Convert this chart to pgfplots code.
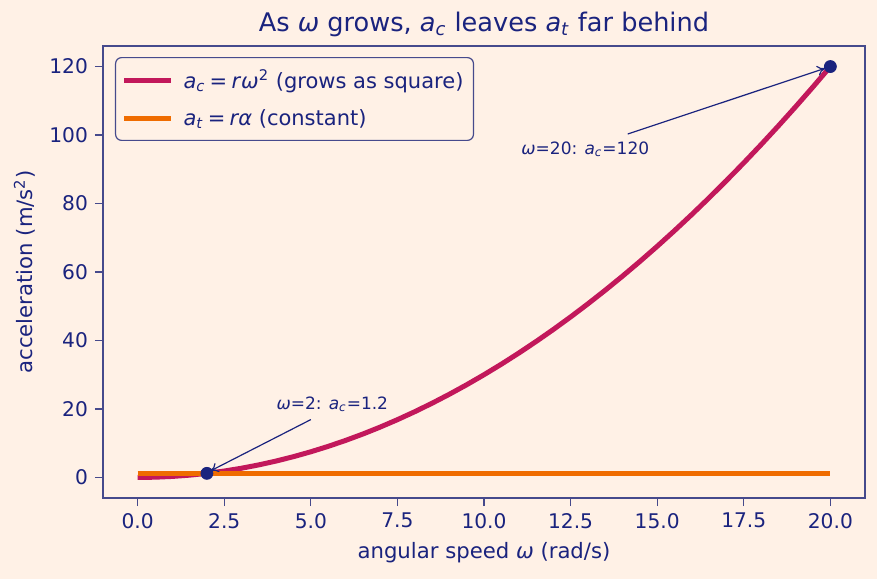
\documentclass[border=0pt]{standalone}
\usepackage{pgfplots}
\pgfplotsset{compat=1.18}
\usetikzlibrary{arrows.meta}
\usepackage{fontspec}
\setmainfont{DejaVu Sans}
\definecolor{bg}{HTML}{FFF1E6}
\definecolor{ink}{HTML}{1A237E}
\definecolor{spine}{HTML}{464A8C}
\definecolor{crim}{HTML}{C2185B}
\definecolor{orng}{HTML}{EF6C00}
% italic symbols set in the text font
\newcommand{\iv}[1]{\textit{#1}}
\newcommand{\ac}{\iv{a}\textsubscript{\iv{c}}}
\newcommand{\at}{\iv{a}\textsubscript{\iv{t}}}
\newcommand{\om}{\iv{ω}}
\newcommand{\eq}{\hspace{0.2em}=\hspace{0.2em}}
\begin{document}
\begin{tikzpicture}
\fill[bg] (-51.5pt,-40.5pt) rectangle (387pt,249pt);
\useasboundingbox (-51.5pt,-40.5pt) rectangle (387pt,249pt);
\begin{axis}[
  scale only axis, width=381pt, height=226pt,
  xmin=-1, xmax=21, ymin=-6, ymax=126,
  axis background/.style={fill=bg},
  axis line style={spine, line width=0.6pt},
  every tick/.style={spine, line width=0.6pt},
  tick align=outside, major tick length=4pt,
  xtick pos=left, ytick pos=left,
  xtick={0,2.5,...,20}, ytick={0,20,...,120},
  xticklabel style={/pgf/number format/.cd, fixed, fixed zerofill, precision=1},
  yticklabel style={/pgf/number format/.cd, fixed, precision=0},
  /pgf/number format/assume math mode=true,
  tick label style={font=\fontsize{10.1}{12}\selectfont, text=ink},
  label style={font=\fontsize{10.6}{12}\selectfont, text=ink},
  xlabel={angular speed \om{} (rad/s)},
  ylabel={acceleration (m/s\textsuperscript{2})},
  title={As \om{} grows, \ac{} leaves \at{} far behind},
  title style={font=\fontsize{12.8}{15}\selectfont, text=ink, yshift=-5pt},
  legend cell align=left,
  legend style={at={(axis description cs:0,1)}, anchor=north west,
    xshift=6pt, yshift=-5.5pt, draw=spine, fill=bg, rounded corners=3pt,
    font=\fontsize{10.5}{12}\selectfont, text=ink, line width=0.6pt,
    inner xsep=3pt, inner ysep=4pt, row sep=5pt},
  legend image code/.code={\draw[#1] (0pt,0pt) -- (23.5pt,0pt);},
]
% centripetal acceleration a_c = 0.3 * omega^2
\addplot[crim, line width=2.5pt, line join=round] coordinates {
(0,0) (0.5,0.075) (1,0.3) (1.5,0.675) (2,1.2) (2.5,1.875) (3,2.7) (3.5,3.675)
(4,4.8) (4.5,6.075) (5,7.5) (5.5,9.075) (6,10.8) (6.5,12.675) (7,14.7)
(7.5,16.875) (8,19.2) (8.5,21.675) (9,24.3) (9.5,27.075) (10,30)
(10.5,33.075) (11,36.3) (11.5,39.675) (12,43.2) (12.5,46.875) (13,50.7)
(13.5,54.675) (14,58.8) (14.5,63.075) (15,67.5) (15.5,72.075) (16,76.8)
(16.5,81.675) (17,86.7) (17.5,91.875) (18,97.2) (18.5,102.675) (19,108.3)
(19.5,114.075) (20,120)};
\addlegendentry{\hspace{3pt}\ac\eq\iv{r}\om\textsuperscript{2} (grows as square)}
% tangential acceleration, constant
\addplot[orng, line width=2.5pt] coordinates {(0,1.2) (20,1.2)};
\addlegendentry{\hspace{3pt}\at\eq\iv{rα} (constant)}
% highlighted points
\addplot[only marks, mark=*, mark size=3pt, ink, forget plot] coordinates {(2,1.2) (20,120)};
% annotations
\draw[ink, line width=0.6pt, -{To[length=4pt,width=5pt]}] (axis cs:5,16.9) -- (axis cs:2.1,1.9);
\node[ink, anchor=base west, font=\fontsize{8.5}{10}\selectfont, inner sep=0pt] at (axis cs:4,19.8) {\om=2: \ac=1.2};
\draw[ink, line width=0.6pt, -{To[length=4pt,width=5pt]}] (axis cs:14.15,100.3) -- (axis cs:19.85,119.5);
\node[ink, anchor=base west, font=\fontsize{8.5}{10}\selectfont, inner sep=0pt] at (axis cs:11.07,94.4) {\om=20: \ac=120};
\end{axis}
\end{tikzpicture}
\end{document}
